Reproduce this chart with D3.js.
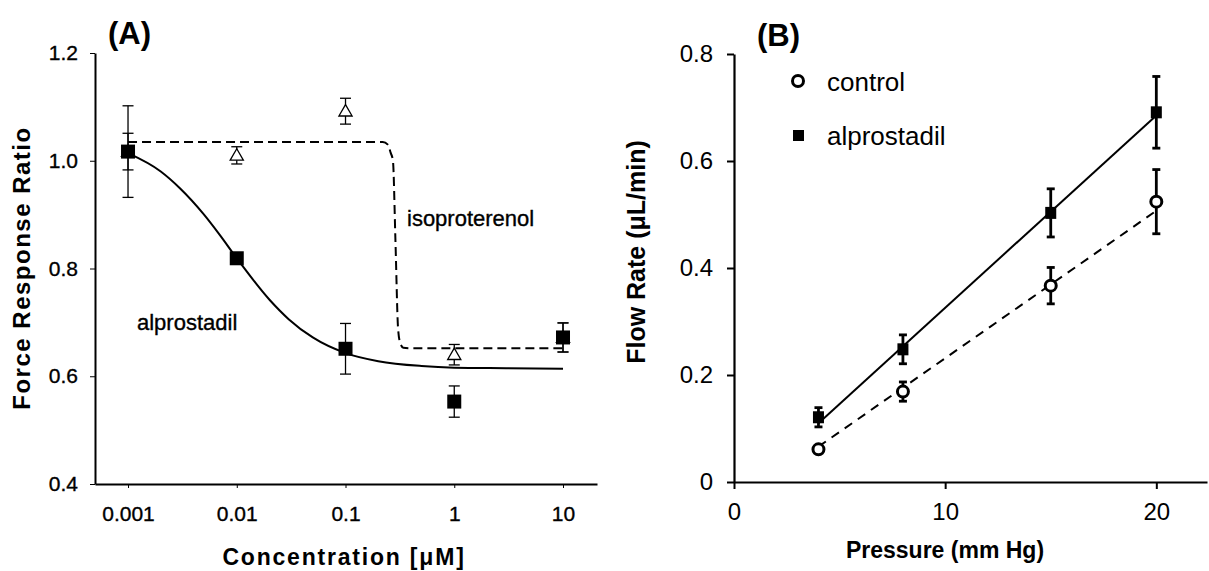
<!DOCTYPE html>
<html>
<head>
<meta charset="utf-8">
<script src="https://cdn.jsdelivr.net/npm/d3@7"></script>
<style>
  body { margin: 0; background: #fff; }
  svg text { font-family: "Liberation Sans", Arial, sans-serif; fill: #000; }
</style>
</head>
<body>
<div id="chart"></div>
<script>
// ---- panel A data: force response vs concentration
var concTicks = [0.001, 0.01, 0.1, 1, 10];
var concLabels = ["0.001", "0.01", "0.1", "1", "10"];
var ratioTicks = [0.4, 0.6, 0.8, 1.0, 1.2];

var alproConc = [0.001, 0.01, 0.1, 1, 10];
var alproRatio = [1.017, 0.819, 0.651, 0.553, 0.672];
var alproErr = [0.085, 0.006, 0.047, 0.029, 0.027];

var isoConc = [0.001, 0.01, 0.1, 1, 10];
var isoRatio = [1.017, 1.010, 1.092, 0.640, 0.672];
var isoErr = [0.034, 0.016, 0.024, 0.019, 0.027];

// fitted curves
var alproFitConc = [0.001, 0.002, 0.003, 0.005, 0.007, 0.01, 0.02, 0.03, 0.05, 0.1, 0.2, 0.5, 1, 3, 10];
var alproFitRatio = [1.014, 0.980, 0.949, 0.900, 0.862, 0.819, 0.742, 0.706, 0.672, 0.643, 0.628, 0.619, 0.616, 0.615, 0.614];
var isoFitConc = [0.001, 0.22, 0.245, 0.26, 0.273, 0.288, 0.304, 0.318, 0.34, 0.4, 10];
var isoFitRatio = [1.035, 1.035, 1.03, 1.015, 1.0, 0.85, 0.69, 0.662, 0.653, 0.652, 0.652];

// ---- panel B data: flow rate vs pressure
var pressTicks = [0, 10, 20];
var flowTicks = [0, 0.2, 0.4, 0.6, 0.8];
var pressure = [4, 8, 15, 20];
var controlFlow = [0.061, 0.169, 0.367, 0.524];
var controlErr = [0.006, 0.018, 0.034, 0.060];
var alproFlow = [0.121, 0.248, 0.503, 0.691];
var alproFlowErr = [0.018, 0.027, 0.045, 0.067];
var fitPress = [4, 20];
var controlFit = [0.066, 0.507];
var alproFlowFit = [0.110, 0.685];

var width = 1209, height = 571;
var svg = d3.select("#chart").append("svg")
  .attr("width", width).attr("height", height);

// =================== panel A ===================
var xA = d3.scaleLog().domain([0.000497, 20.54]).range([95, 597]);
var yA = d3.scaleLinear().domain([0.4, 1.2]).range([484, 53]);

var gA = svg.append("g");

var axA = gA.append("g").attr("transform", "translate(0,484)")
  .call(d3.axisBottom(xA).tickValues(concTicks)
    .tickFormat(function(d, i) { return concLabels[i]; })
    .tickSize(4).tickSizeOuter(0).tickPadding(18));
var ayA = gA.append("g").attr("transform", "translate(95,0)")
  .call(d3.axisLeft(yA).tickValues(ratioTicks)
    .tickFormat(d3.format(".1f"))
    .tickSize(5).tickSizeOuter(0).tickPadding(12));
[axA, ayA].forEach(function(a) {
  a.select(".domain").attr("stroke-width", 2);
  a.selectAll(".tick line").attr("stroke-width", 1);
  a.selectAll("text").style("font-size", "21px")
    .attr("stroke", "#000").attr("stroke-width", 0.35);
});

// fitted curves
var lineA = d3.line().curve(d3.curveMonotoneX)
  .x(function(d) { return xA(d[0]); }).y(function(d) { return yA(d[1]); });
gA.append("path").datum(d3.zip(isoFitConc, isoFitRatio))
  .attr("d", lineA).attr("fill", "none").attr("stroke", "#000")
  .attr("stroke-width", 2).attr("stroke-dasharray", "9,5");
gA.append("path").datum(d3.zip(alproFitConc, alproFitRatio))
  .attr("d", lineA).attr("fill", "none").attr("stroke", "#000")
  .attr("stroke-width", 2);

// error bars
function errBars(g, xs, ys, es, xs_, ys_, cap, sw) {
  var eb = g.append("g").attr("stroke", "#000").attr("stroke-width", sw);
  d3.range(xs.length).forEach(function(i) {
    var x = xs_(xs[i]), y1 = ys_(ys[i] + es[i]), y2 = ys_(ys[i] - es[i]);
    eb.append("line").attr("x1", x).attr("x2", x).attr("y1", y1).attr("y2", y2);
    eb.append("line").attr("x1", x - cap).attr("x2", x + cap).attr("y1", y1).attr("y2", y1);
    eb.append("line").attr("x1", x - cap).attr("x2", x + cap).attr("y1", y2).attr("y2", y2);
  });
}
errBars(gA, isoConc, isoRatio, isoErr, xA, yA, 5.5, 1.3);
errBars(gA, alproConc, alproRatio, alproErr, xA, yA, 5.5, 1.3);

// triangles (isoproterenol)
gA.append("g").selectAll("path").data(d3.zip(isoConc, isoRatio)).enter()
  .append("path")
  .attr("d", d3.symbol().type(d3.symbolTriangle).size(75))
  .attr("transform", function(d) { return "translate(" + xA(d[0]) + "," + (yA(d[1]) + 1) + ")"; })
  .attr("fill", "#fff").attr("stroke", "#000").attr("stroke-width", 1.3);

// squares (alprostadil)
gA.append("g").selectAll("rect").data(d3.zip(alproConc, alproRatio)).enter()
  .append("rect")
  .attr("x", function(d) { return xA(d[0]) - 7; })
  .attr("y", function(d) { return yA(d[1]) - 7; })
  .attr("width", 14).attr("height", 14).attr("fill", "#000");

// labels
gA.append("text").attr("x", 108).attr("y", 44)
  .style("font-size", "31px").style("font-weight", "bold").text("(A)");
gA.append("text").attr("transform", "translate(30,268) rotate(-90)")
  .attr("text-anchor", "middle").style("font-size", "24px").style("font-weight", "bold")
  .style("letter-spacing", "1.5px").text("Force Response Ratio");
gA.append("text").attr("x", 344).attr("y", 565)
  .attr("text-anchor", "middle").style("font-size", "23px").style("font-weight", "bold")
  .style("letter-spacing", "1.8px").text("Concentration [\u03bcM]");
gA.append("text").attr("x", 407).attr("y", 226)
  .style("font-size", "22px").attr("stroke", "#000").attr("stroke-width", 0.35)
  .text("isoproterenol");
gA.append("text").attr("x", 137).attr("y", 330)
  .style("font-size", "22px").attr("stroke", "#000").attr("stroke-width", 0.35)
  .text("alprostadil");

// =================== panel B ===================
var xB = d3.scaleLinear().domain([0, 22.4]).range([734, 1207]);
var yB = d3.scaleLinear().domain([0, 0.8]).range([482, 54]);
var gB = svg.append("g");

var axB = gB.append("g").attr("transform", "translate(0,482)")
  .call(d3.axisBottom(xB).tickValues(pressTicks).tickFormat(d3.format("d"))
    .tickSize(7).tickSizeOuter(0).tickPadding(14));
var ayB = gB.append("g").attr("transform", "translate(734,0)")
  .call(d3.axisLeft(yB).tickValues(flowTicks)
    .tickFormat(function(d) { return d === 0 ? "0" : d3.format(".1f")(d); })
    .tickSize(7).tickSizeOuter(0).tickPadding(14));
[axB, ayB].forEach(function(a) {
  a.select(".domain").attr("stroke-width", 2.2);
  a.selectAll(".tick line").attr("stroke-width", 2);
  a.selectAll("text").style("font-size", "24px");
});

var lineB = d3.line().x(function(d) { return xB(d[0]); }).y(function(d) { return yB(d[1]); });
gB.append("path").datum(d3.zip(fitPress, controlFit))
  .attr("d", lineB).attr("stroke", "#000").attr("stroke-width", 2)
  .attr("stroke-dasharray", "9,7").attr("fill", "none");
gB.append("path").datum(d3.zip(fitPress, alproFlowFit))
  .attr("d", lineB).attr("stroke", "#000").attr("stroke-width", 2).attr("fill", "none");

errBars(gB, pressure, controlFlow, controlErr, xB, yB, 4, 2.8);
errBars(gB, pressure, alproFlow, alproFlowErr, xB, yB, 4, 2.8);

gB.append("g").selectAll("circle").data(d3.zip(pressure, controlFlow)).enter()
  .append("circle")
  .attr("cx", function(d) { return xB(d[0]); })
  .attr("cy", function(d) { return yB(d[1]); })
  .attr("r", 5.5).attr("fill", "#fff").attr("stroke", "#000").attr("stroke-width", 3);
gB.append("g").selectAll("rect").data(d3.zip(pressure, alproFlow)).enter()
  .append("rect")
  .attr("x", function(d) { return xB(d[0]) - 5.5; })
  .attr("y", function(d) { return yB(d[1]) - 6; })
  .attr("width", 11).attr("height", 12).attr("fill", "#000");

// legend
gB.append("circle").attr("cx", 798).attr("cy", 81).attr("r", 5.5)
  .attr("fill", "#fff").attr("stroke", "#000").attr("stroke-width", 3);
gB.append("text").attr("x", 827).attr("y", 91).style("font-size", "26px").text("control");
gB.append("rect").attr("x", 793).attr("y", 130).attr("width", 11).attr("height", 11).attr("fill", "#000");
gB.append("text").attr("x", 827).attr("y", 145).style("font-size", "26px").text("alprostadil");

gB.append("text").attr("x", 757).attr("y", 46)
  .style("font-size", "31px").style("font-weight", "bold").text("(B)");
gB.append("text").attr("transform", "translate(645,252) rotate(-90)")
  .attr("text-anchor", "middle").style("font-size", "25px").style("font-weight", "bold")
  .text("Flow Rate (\u03bcL/min)");
gB.append("text").attr("x", 945).attr("y", 558)
  .attr("text-anchor", "middle").style("font-size", "23px").style("font-weight", "bold")
  .text("Pressure (mm Hg)");
</script>
</body>
</html>
